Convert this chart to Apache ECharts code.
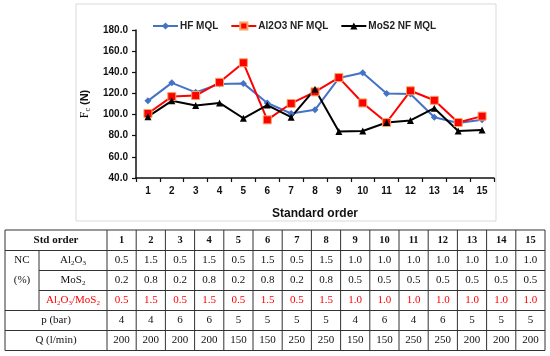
<!DOCTYPE html>
<html><head><meta charset="utf-8">
<script src="https://cdn.jsdelivr.net/npm/echarts@6/dist/echarts.min.js"></script>
<style>html,body{margin:0;padding:0;background:#fff}#c{width:550px;height:356px}</style>
</head><body><div id="c"></div>
<script>
// ---- data ----
const categories = ['1','2','3','4','5','6','7','8','9','10','11','12','13','14','15'];
const hfMQL   = [113, 130, 121, 129, 129.5, 111, 101, 104.5, 134.5, 139.5, 120, 119.5, 97.5, 92, 95];
const al2o3NF = [101, 117, 118, 130.5, 149, 95, 110.5, 121.5, 135, 111, 92.5, 122.5, 113.5, 92.5, 98.5];
const mos2NF  = [98, 113, 108.5, 111, 96.5, 109, 97.5, 124, 84, 84.5, 92.5, 94.5, 106, 84.5, 85.5];
const seriesNames = ['HF MQL', 'Al2O3 NF MQL', 'MoS2 NF MQL'];
const yTicks = { min: 40, max: 180, interval: 20 };
// table
const tblAl2O3 = ['0.5','1.5','0.5','1.5','0.5','1.5','0.5','1.5','1.0','1.0','1.0','1.0','1.0','1.0','1.0'];
const tblMoS2  = ['0.2','0.8','0.2','0.8','0.2','0.8','0.2','0.8','0.5','0.5','0.5','0.5','0.5','0.5','0.5'];
const tblRatio = ['0.5','1.5','0.5','1.5','0.5','1.5','0.5','1.5','1.0','1.0','1.0','1.0','1.0','1.0','1.0'];
const tblP     = ['4','4','6','6','5','5','5','5','4','6','4','6','5','5','5'];
const tblQ     = ['200','200','200','200','150','150','250','250','150','150','250','250','200','200','200'];

// ---- table graphic ----
const serif = 'Liberation Serif';
const X0 = 5, XNC = 39, XL = 107, CW = 29.2;
const rowsY = [230, 250.5, 270.5, 290.5, 310.5, 330.5, 350.5];
const XR = XL + CW * 15;
const g = [];
const lineCol = '#333';
function L(x1,y1,x2,y2,w){ g.push({type:'line', silent:true, shape:{x1,y1,x2,y2}, style:{stroke:lineCol, lineWidth:w||1}}); }
function T(x,y,text,opt){ opt=opt||{}; g.push({type:'text', silent:true, x, y, style:Object.assign({text, fill:opt.fill||'#111', font:(opt.bold?'bold ':'')+(opt.size||11)+'px "'+serif+'"', align:'center', verticalAlign:'middle'}, opt.rich?{rich:opt.rich}:{})}); }
// horizontal lines
L(X0, rowsY[0], XR, rowsY[0]);
L(X0, rowsY[1], XR, rowsY[1]);
L(XNC, rowsY[2], XR, rowsY[2]);
L(XNC, rowsY[3], XR, rowsY[3]);
L(X0, rowsY[4], XR, rowsY[4]);
L(X0, rowsY[5], XR, rowsY[5]);
L(X0, rowsY[6], XR, rowsY[6]);
// vertical lines
L(X0, rowsY[0], X0, rowsY[6]);
L(XNC, rowsY[1], XNC, rowsY[4]);
for (let i = 0; i <= 15; i++) L(XL + CW*i, rowsY[0], XL + CW*i, rowsY[6]);
const cy = r => (rowsY[r] + rowsY[r+1]) / 2;
T((X0+XL)/2, cy(0), 'Std order', {bold:true, size:11});
T((X0+XNC)/2, cy(1), 'NC');
T((X0+XNC)/2, cy(2), '(%)');
const sub = {a:{fontFamily:serif, fontSize:11, fill:'#111', lineHeight:14}, s:{fontFamily:serif, fontSize:7, fill:'#111', lineHeight:14, padding:[5,0,0,0]}};
const subR = {a:{fontFamily:serif, fontSize:11, fill:'#ff0000', lineHeight:14}, s:{fontFamily:serif, fontSize:7, fill:'#ff0000', lineHeight:14, padding:[5,0,0,0]}};
T((XNC+XL)/2, cy(1), '{a|Al}{s|2}{a|O}{s|3}', {rich:sub});
T((XNC+XL)/2, cy(2), '{a|MoS}{s|2}', {rich:sub});
T((XNC+XL)/2, cy(3), '{a|Al}{s|2}{a|O}{s|3}{a|/MoS}{s|2}', {rich:subR});
T((X0+XL)/2, cy(4), 'p (bar)');
T((X0+XL)/2, cy(5), 'Q (l/min)');
for (let i = 0; i < 15; i++) {
  const x = XL + CW*i + CW/2;
  T(x, cy(0), categories[i], {bold:true, size:10.5});
  T(x, cy(1), tblAl2O3[i]);
  T(x, cy(2), tblMoS2[i]);
  T(x, cy(3), tblRatio[i], {fill:'#ff0000'});
  T(x, cy(4), tblP[i]);
  T(x, cy(5), tblQ[i]);
}
// chart frame
g.unshift({type:'rect', silent:true, shape:{x:76, y:4, width:420, height:217}, style:{fill:'none', stroke:'#d9d9d9', lineWidth:1}});

const sans = 'Liberation Sans';
const chart = echarts.init(document.getElementById('c'), null, {renderer:'canvas'});
chart.setOption({
  animation: false,
  backgroundColor: '#fff',
  grid: { left: 136, right: 56, top: 30, bottom: 178 },
  legend: {
    left: 147, top: 16, itemWidth: 25, itemHeight: 9, itemGap: 12,
    textStyle: { fontFamily: sans, fontWeight: 'bold', fontSize: 10, color: '#222', padding:[0,0,0,-3] },
    data: seriesNames
  },
  xAxis: {
    type: 'category', data: categories, boundaryGap: true,
    name: 'Standard order', nameLocation: 'middle', nameGap: 30,
    nameTextStyle: { fontFamily: sans, fontWeight: 'bold', fontSize: 12, color: '#111' },
    axisLine: { lineStyle: { color: '#111', width: 1.5 } },
    axisTick: { show: true, length: 4, lineStyle: { color: '#111', width: 1.2 } },
    axisLabel: { fontFamily: sans, fontWeight: 'bold', fontSize: 10, color: '#111', margin: 8 }
  },
  yAxis: {
    type: 'value', min: yTicks.min, max: yTicks.max, interval: yTicks.interval,
    name: '{f|F}{c|c}{n| (N)}', nameLocation: 'middle', nameGap: 41, nameRotate: 90,
    nameTextStyle: { rich: {
      f: { fontFamily: serif, fontSize: 12, color: '#111', lineHeight: 16 },
      c: { fontFamily: serif, fontSize: 8, color: '#111', lineHeight: 16, padding:[6,0,0,0] },
      n: { fontFamily: sans, fontWeight: 'bold', fontSize: 11, color: '#111', lineHeight: 16 }
    } },
    axisLine: { show: true, lineStyle: { color: '#111', width: 1.5 } },
    axisTick: { show: true, length: 4, lineStyle: { color: '#111', width: 1.2 } },
    splitLine: { show: false },
    axisLabel: { fontFamily: sans, fontWeight: 'bold', fontSize: 10, color: '#111', margin: 8,
      formatter: v => v.toFixed(1) }
  },
  series: [
    { name: seriesNames[0], type: 'line', data: hfMQL, symbol: 'diamond', symbolSize: 7,
      lineStyle: { color: '#4472C4', width: 2 }, itemStyle: { color: '#4472C4' } },
    { name: seriesNames[1], type: 'line', data: al2o3NF, symbol: 'rect', symbolSize: 8,
      lineStyle: { color: '#FF0000', width: 2 }, itemStyle: { color: '#FF0000', borderColor: '#F4A460', borderWidth: 1 } },
    { name: seriesNames[2], type: 'line', data: mos2NF, symbol: 'triangle', symbolSize: 7,
      lineStyle: { color: '#000', width: 2 }, itemStyle: { color: '#000' } }
  ],
  graphic: g
});
</script></body></html>
